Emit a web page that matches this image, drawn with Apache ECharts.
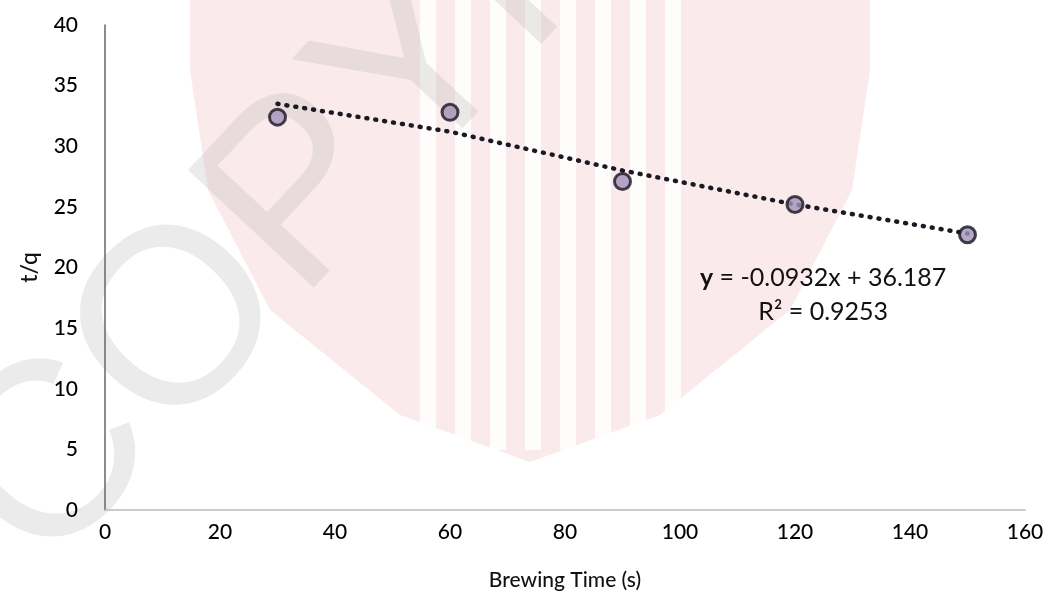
<!DOCTYPE html>
<html>
<head>
<meta charset="utf-8">
<script src="https://cdn.jsdelivr.net/npm/echarts@6/dist/echarts.min.js"></script>
<style>
html,body{margin:0;padding:0;background:#fff;}
#chart{width:1056px;height:601px;}
</style>
</head>
<body>
<div id="chart"></div>
<script>
// Data
var brewingTime = [30, 60, 90, 120, 150];
var tq = [32.4, 32.8, 27.1, 25.2, 22.7];
var trendX = [30, 60, 90, 120, 150];
var trendY = [33.5, 31.2, 28.0, 25.2, 22.8];
var xTicks = [0, 20, 40, 60, 80, 100, 120, 140, 160];
var yTicks = [0, 5, 10, 15, 20, 25, 30, 35, 40];
var equationText = '-0.0932x + 36.187';
var r2Text = 'R² = 0.9253';

var scatterData = brewingTime.map(function (x, i) { return [x, tq[i]]; });
var trendData = trendX.map(function (x, i) { return [x, trendY[i]]; });

var chart = echarts.init(document.getElementById('chart'));
var font = 'Lato, "Open Sans", sans-serif';

// watermark decoration
var wm = [{
  id: 'shield', type: 'polygon', z: -10, silent: true,
  shape: { points: [[190,0],[870,0],[870,70],[852,190],[790,310],[660,415],[530,462],[400,415],[270,310],[208,190],[190,70]] },
  style: { fill: 'rgba(228,140,150,0.18)' }
}];
[420, 455, 490, 525, 560, 595, 630, 665].forEach(function (sx, i) {
  wm.push({
    id: 'stripe' + i, type: 'rect', z: -9, silent: true,
    shape: { x: sx, y: 0, width: 16, height: 450 },
    style: { fill: 'rgba(255,255,255,0.85)' }
  });
});
wm.push({
  id: 'wmtext', type: 'text', z: -8, silent: true,
  x: 85, y: 615, rotation: 0.82,
  style: {
    text: 'COPYRIGHT', fontSize: 250, fontFamily: 'Liberation Sans, sans-serif',
    fill: 'rgba(170,170,170,0.24)', verticalAlign: 'bottom'
  }
});

chart.setOption({
  backgroundColor: '#ffffff',
  animation: false,
  graphic: wm,
  grid: { left: 105, right: 31, top: 25, bottom: 91 },
  xAxis: {
    type: 'value', min: 0, max: 160, interval: 20,
    name: 'Brewing Time (s)', nameLocation: 'middle', nameGap: 60,
    nameTextStyle: { fontSize: 21, color: '#111', fontFamily: font, fontWeight: 500 },
    axisLine: { show: true, lineStyle: { color: '#bbb', width: 1.5 } },
    axisTick: { show: false },
    splitLine: { show: false },
    axisLabel: { fontSize: 21, color: '#000', margin: 12, fontFamily: font, fontWeight: 500 }
  },
  yAxis: {
    type: 'value', min: 0, max: 40, interval: 5,
    name: 't/q', nameLocation: 'middle', nameGap: 64,
    nameTextStyle: { fontSize: 23, color: '#111', fontFamily: font, fontWeight: 500 },
    axisLine: { show: true, lineStyle: { color: '#666', width: 1.5 } },
    axisTick: { show: false },
    splitLine: { show: false },
    axisLabel: { fontSize: 21, color: '#000', margin: 27, fontFamily: font, fontWeight: 500 }
  },
  series: [
    {
      type: 'line', data: trendData, showSymbol: false, symbol: 'none',
      lineStyle: { type: [1, 8], width: 4.5, color: '#1a1a24', cap: 'round' },
      z: 3, silent: true
    },
    {
      type: 'scatter', data: scatterData, symbol: 'circle', symbolSize: 16,
      itemStyle: { color: '#a092b8', borderColor: '#1a1420', borderWidth: 3 },
      z: 4
    }
  ]
});

// equation label positioned in data coordinates
var p1 = chart.convertToPixel({ gridIndex: 0 }, [124.9, 19.1]);
var p2 = chart.convertToPixel({ gridIndex: 0 }, [124.9, 16.3]);
chart.setOption({
  graphic: [
    {
      id: 'eq', type: 'text', z: 10, x: p1[0], y: p1[1],
      style: {
        text: '{b|y} = ' + equationText,
        align: 'center', verticalAlign: 'middle',
        fontSize: 25, fontFamily: font, fill: '#111',
        rich: { b: { fontWeight: 'bold', fontSize: 25, fontFamily: font, fill: '#111' } }
      }
    },
    {
      id: 'r2', type: 'text', z: 10, x: p2[0], y: p2[1],
      style: {
        text: r2Text, align: 'center', verticalAlign: 'middle',
        fontSize: 25, fontFamily: font, fill: '#111'
      }
    }
  ]
});
</script>
</body>
</html>
